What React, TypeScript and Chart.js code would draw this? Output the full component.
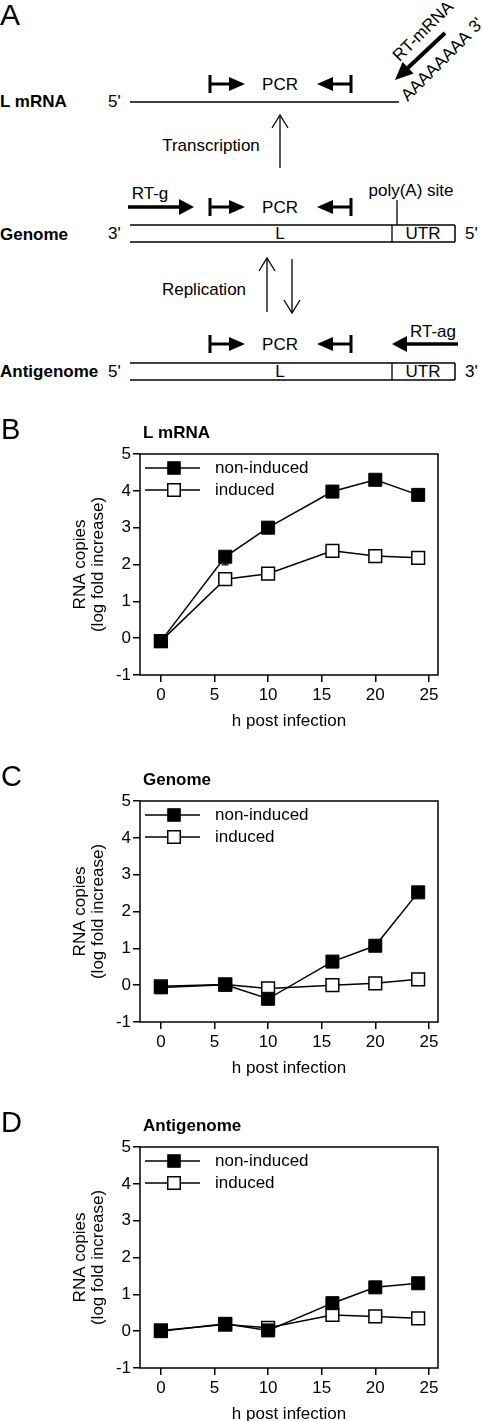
import React, { useEffect, useRef } from "react";
import { Chart, registerables } from "chart.js";

Chart.register(...registerables);

const FONT = "'Liberation Sans', Arial, Helvetica, sans-serif";

// ---- data ----
const hours = [0, 6, 10, 16, 20, 24];
const xTicks = [0, 5, 10, 15, 20, 25];
const yTicks = [-1, 0, 1, 2, 3, 4, 5];
const seriesNames = ["non-induced", "induced"];

const lmrnaNonInduced = [-0.08, 2.21, 3.0, 3.98, 4.3, 3.89];
const lmrnaNonInducedErr = [0, 0.22, 0, 0, 0, 0];
const lmrnaInduced = [-0.08, 1.6, 1.75, 2.37, 2.23, 2.18];

const genomeNonInduced = [-0.06, 0.01, -0.37, 0.64, 1.07, 2.52];
const genomeInduced = [-0.03, 0.02, -0.09, 0.0, 0.05, 0.16];

const antigenomeNonInduced = [0.0, 0.2, 0.02, 0.76, 1.19, 1.3];
const antigenomeInduced = [0.02, 0.18, 0.09, 0.44, 0.4, 0.35];

const zeroErr = [0, 0, 0, 0, 0, 0];

function Panel(props: {
  letter: string;
  title: string;
  nonInduced: number[];
  induced: number[];
  errors: number[];
  top: number;
}) {
  const ref = useRef<HTMLCanvasElement>(null);
  useEffect(() => {
    const { letter, title, nonInduced, induced, errors } = props;
    const decor = {
      id: "decor",
      beforeDatasetsDraw(chart: any) {
        const { ctx, chartArea: a, scales } = chart;
        ctx.save();
        ctx.strokeStyle = "#000";
        ctx.lineWidth = 1.5;
        ctx.strokeRect(a.left, a.top, a.right - a.left, a.bottom - a.top);
        // lower error bars for non-induced
        ctx.lineWidth = 1.3;
        hours.forEach((h, i) => {
          const e = errors[i];
          if (!e) return;
          const px = scales.x.getPixelForValue(h);
          const y0 = scales.y.getPixelForValue(nonInduced[i]);
          const y1 = scales.y.getPixelForValue(nonInduced[i] - e);
          ctx.beginPath();
          ctx.moveTo(px, y0);
          ctx.lineTo(px, y1);
          ctx.moveTo(px - 3.5, y1);
          ctx.lineTo(px + 3.5, y1);
          ctx.stroke();
        });
        ctx.restore();
      },
      afterDraw(chart: any) {
        const { ctx, chartArea: a } = chart;
        ctx.save();
        ctx.fillStyle = "#000";
        ctx.textBaseline = "middle";
        ctx.textAlign = "left";
        ctx.font = `29px ${FONT}`;
        ctx.fillText(letter, 1, 31);
        ctx.font = `bold 17px ${FONT}`;
        ctx.fillText(title, 143, 33);
        // legend
        chart.data.datasets.forEach((ds: any, i: number) => {
          const y = a.top + 14 + i * 22;
          const x0 = a.left + 5;
          const x1 = a.left + 60;
          const mx = a.left + 34;
          ctx.strokeStyle = "#000";
          ctx.lineWidth = 1.5;
          ctx.beginPath();
          ctx.moveTo(x0, y);
          ctx.lineTo(x1, y);
          ctx.stroke();
          const s = 12.5;
          ctx.fillStyle = ds.pointBackgroundColor;
          ctx.fillRect(mx - s / 2, y - s / 2, s, s);
          ctx.lineWidth = ds.pointBorderWidth;
          ctx.strokeRect(mx - s / 2, y - s / 2, s, s);
          ctx.fillStyle = "#000";
          ctx.font = `17px ${FONT}`;
          ctx.fillText(ds.label, a.left + 75, y);
        });
        ctx.restore();
      },
    };

    const mk = (vals: number[]) => hours.map((h, i) => ({ x: h, y: vals[i] }));

    const chart = new Chart(ref.current as HTMLCanvasElement, {
      type: "line",
      data: {
        datasets: [
          {
            label: seriesNames[0],
            data: mk(nonInduced),
            borderColor: "#000",
            backgroundColor: "#000",
            borderWidth: 1.5,
            pointStyle: "rect",
            pointRadius: 9.2,
            pointBackgroundColor: "#000",
            pointBorderColor: "#000",
            pointBorderWidth: 1,
          },
          {
            label: seriesNames[1],
            data: mk(induced),
            borderColor: "#000",
            backgroundColor: "#fff",
            borderWidth: 1.5,
            pointStyle: "rect",
            pointRadius: 9,
            pointBackgroundColor: "#fff",
            pointBorderColor: "#000",
            pointBorderWidth: 1.5,
          },
        ],
      },
      options: {
        animation: false,
        responsive: false,
        layout: { padding: { left: 0, right: 45, top: 54, bottom: 5 } },
        plugins: { legend: { display: false }, tooltip: { enabled: false } },
        scales: {
          x: {
            type: "linear",
            min: -1.95,
            max: 25.85,
            afterBuildTicks: (s: any) => {
              s.ticks = xTicks.map((v) => ({ value: v }));
            },
            afterFit: (s: any) => {
              s.height = 55;
            },
            grid: {
              display: true,
              drawOnChartArea: false,
              drawTicks: true,
              tickLength: 7,
              color: "#000",
              lineWidth: 1.5,
            },
            border: { display: false },
            ticks: {
              color: "#000",
              font: { family: FONT, size: 17 },
              padding: 3,
              maxRotation: 0,
              autoSkip: false,
            },
            title: {
              display: true,
              text: "h post infection",
              color: "#000",
              font: { family: FONT, size: 17, lineHeight: 18 / 17 },
              padding: 0,
            },
          },
          y: {
            type: "linear",
            min: -1,
            max: 5,
            afterBuildTicks: (s: any) => {
              s.ticks = yTicks.map((v) => ({ value: v }));
            },
            afterFit: (s: any) => {
              s.width = 140;
            },
            grid: {
              display: true,
              drawOnChartArea: false,
              drawTicks: true,
              tickLength: 7,
              color: "#000",
              lineWidth: 1.5,
            },
            border: { display: false },
            ticks: {
              color: "#000",
              font: { family: FONT, size: 17 },
              padding: 2,
              autoSkip: false,
            },
            title: {
              display: true,
              text: ["RNA copies", "(log fold increase)"],
              color: "#000",
              font: { family: FONT, size: 17, lineHeight: 18 / 17 },
              padding: { top: 71, bottom: 0 },
            },
          },
        },
      },
      plugins: [decor],
    } as any);
    return () => chart.destroy();
  }, []);
  return (
    <canvas
      ref={ref}
      width={483}
      height={335}
      style={{ position: "absolute", left: 0, top: props.top, width: 483, height: 335 }}
    />
  );
}

function Primers({ y }: { y: number }) {
  return (
    <g>
      <line x1={210} y1={y - 9} x2={210} y2={y + 9} stroke="#000" strokeWidth={3} />
      <line x1={210} y1={y} x2={231} y2={y} stroke="#000" strokeWidth={3} />
      <polygon points={`229,${y - 7} 229,${y + 7} 245,${y}`} fill="#000" />
      <text x={280} y={y} fontSize={17} textAnchor="middle" dominantBaseline="central">PCR</text>
      <polygon points={`317,${y} 333,${y - 7} 333,${y + 7}`} fill="#000" />
      <line x1={331} y1={y} x2={352} y2={y} stroke="#000" strokeWidth={3} />
      <line x1={351} y1={y - 9} x2={351} y2={y + 9} stroke="#000" strokeWidth={3} />
    </g>
  );
}

function Strand({ y1, y2, left, right }: { y1: number; y2: number; left: string; right: string }) {
  const cy = (y1 + y2) / 2;
  return (
    <g>
      <text x={108} y={cy} fontSize={17} dominantBaseline="central">{left}</text>
      <line x1={130} y1={y1} x2={455} y2={y1} stroke="#000" strokeWidth={1.5} />
      <line x1={130} y1={y2} x2={455} y2={y2} stroke="#000" strokeWidth={1.5} />
      <line x1={455} y1={y1} x2={455} y2={y2} stroke="#000" strokeWidth={1.5} />
      <line x1={392} y1={y1} x2={392} y2={y2} stroke="#000" strokeWidth={1.3} />
      <text x={280} y={cy} fontSize={17} textAnchor="middle" dominantBaseline="central">L</text>
      <text x={423} y={cy} fontSize={17} textAnchor="middle" dominantBaseline="central">UTR</text>
      <text x={465} y={cy} fontSize={17} dominantBaseline="central">{right}</text>
    </g>
  );
}

function Diagram() {
  return (
    <svg
      width={483}
      height={400}
      style={{ position: "absolute", left: 0, top: 0 }}
      fontFamily={FONT}
      fill="#000"
    >
      <text x={0} y={14} fontSize={30} dominantBaseline="central">A</text>

      {/* L mRNA */}
      <text x={0} y={101} fontSize={17} fontWeight="bold" dominantBaseline="central">L mRNA</text>
      <text x={108} y={101} fontSize={17} dominantBaseline="central">5'</text>
      <line x1={130} y1={102} x2={399} y2={102} stroke="#000" strokeWidth={1.5} />
      <Primers y={84} />
      <line x1={445} y1={33} x2={408} y2={67.7} stroke="#000" strokeWidth={4} />
      <polygon points="395,80 402.6,61.9 413.6,73.5" fill="#000" />
      <text x={423} y={31} fontSize={17} textAnchor="middle" dominantBaseline="central" transform="rotate(-45 423 31)">RT-mRNA</text>
      <text x={436} y={66} fontSize={17} textAnchor="middle" dominantBaseline="central" transform="rotate(-45 436 66)">AAAAAAAA</text>
      <text x={476} y={25} fontSize={17} textAnchor="middle" dominantBaseline="central" transform="rotate(-45 476 25)">3'</text>

      {/* Transcription */}
      <line x1={280} y1={168} x2={280} y2={116} stroke="#000" strokeWidth={1.3} />
      <polyline points="272,128 280,115 288,128" fill="none" stroke="#000" strokeWidth={1.3} />
      <text x={211} y={145} fontSize={17} textAnchor="middle" dominantBaseline="central">Transcription</text>

      {/* Genome */}
      <text x={150} y={193} fontSize={17} textAnchor="middle" dominantBaseline="central">RT-g</text>
      <line x1={128} y1={207} x2={181} y2={207} stroke="#000" strokeWidth={3.5} />
      <polygon points="179,199 179,215 194,207" fill="#000" />
      <Primers y={207} />
      <text x={411} y={190} fontSize={17} textAnchor="middle" dominantBaseline="central">poly(A) site</text>
      <line x1={397} y1={200} x2={397} y2={225} stroke="#000" strokeWidth={1.3} />
      <text x={0} y={234} fontSize={17} fontWeight="bold" dominantBaseline="central">Genome</text>
      <Strand y1={225} y2={242} left="3'" right="5'" />

      {/* Replication */}
      <line x1={267} y1={312} x2={267} y2={259} stroke="#000" strokeWidth={1.3} />
      <polyline points="259,271 267,258 275,271" fill="none" stroke="#000" strokeWidth={1.3} />
      <line x1={292} y1={259} x2={292} y2={312} stroke="#000" strokeWidth={1.3} />
      <polyline points="284,300 292,313 300,300" fill="none" stroke="#000" strokeWidth={1.3} />
      <text x={204} y={289} fontSize={17} textAnchor="middle" dominantBaseline="central">Replication</text>

      {/* Antigenome */}
      <Primers y={344} />
      <text x={433} y={331} fontSize={17} textAnchor="middle" dominantBaseline="central">RT-ag</text>
      <line x1={458} y1={344} x2={405} y2={344} stroke="#000" strokeWidth={3.5} />
      <polygon points="392,344 407,336 407,352" fill="#000" />
      <text x={0} y={371} fontSize={17} fontWeight="bold" dominantBaseline="central">Antigenome</text>
      <Strand y1={363} y2={380} left="5'" right="3'" />
    </svg>
  );
}

export default function App() {
  return (
    <div
      style={{
        position: "absolute",
        left: 0,
        top: 0,
        width: 483,
        height: 1421,
        background: "#fff",
        overflow: "hidden",
      }}
    >
      <Diagram />
      <Panel letter="B" title="L mRNA" nonInduced={lmrnaNonInduced} induced={lmrnaInduced} errors={lmrnaNonInducedErr} top={400} />
      <Panel letter="C" title="Genome" nonInduced={genomeNonInduced} induced={genomeInduced} errors={zeroErr} top={747} />
      <Panel letter="D" title="Antigenome" nonInduced={antigenomeNonInduced} induced={antigenomeInduced} errors={zeroErr} top={1093} />
    </div>
  );
}
